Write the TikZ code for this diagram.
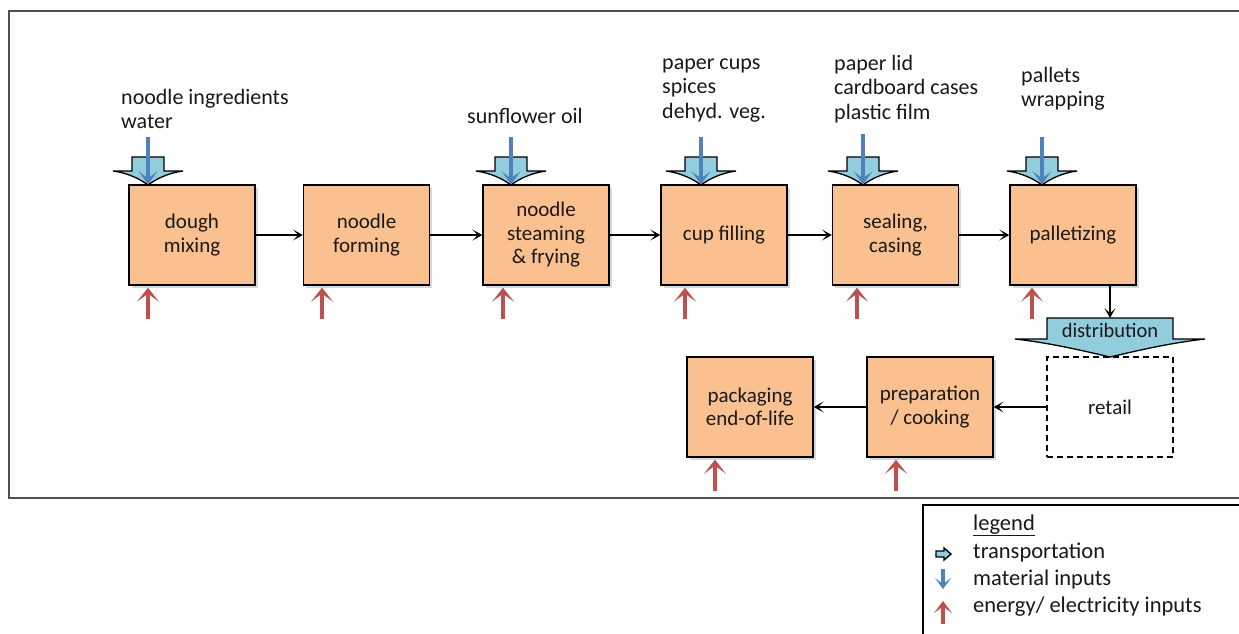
\documentclass[tikz,border=0pt]{standalone}
\usepackage{fontspec}
\setmainfont{Carlito}
\usetikzlibrary{arrows.meta,shadows}
\definecolor{boxfill}{RGB}{250,192,143}
\definecolor{transfill}{RGB}{146,205,221}
\definecolor{matblue}{RGB}{79,129,189}
\definecolor{enred}{RGB}{192,80,77}
\definecolor{txt}{RGB}{25,25,25}
\definecolor{framegray}{RGB}{80,80,80}
\tikzset{
  proc/.style={draw=black, line width=1.4pt, fill=boxfill, minimum width=126pt, minimum height=100pt,
    inner sep=0pt, align=center, font=\fontsize{21}{23.5}\selectfont, text=txt,
    drop shadow={shadow xshift=2.5pt, shadow yshift=-2.5pt, opacity=0.3}},
  retailbox/.style={draw=black, line width=1.4pt, dash pattern=on 6pt off 4pt, fill=white, minimum width=126pt, minimum height=100pt,
    inner sep=0pt, align=center, font=\fontsize{21}{23.5}\selectfont, text=txt},
  lbl/.style={anchor=north west, inner sep=0pt, align=left, font=\fontsize{22}{24.5}\selectfont, text=txt},
  leg/.style={anchor=base west, inner sep=0pt, font=\fontsize{22.5}{27}\selectfont, text=txt},
  conn/.style={draw=black, line width=1.2pt, -{Stealth[length=10pt,width=11pt,inset=5.5pt]}},
  trans/.style={draw=black, line width=1.3pt, fill=transfill, line join=miter},
  material/.style={draw=matblue, line width=3.3pt, -{Stealth[length=13pt,width=19pt,inset=7pt]}},
  energy/.style={draw=enred, line width=3.8pt, -{Stealth[length=14pt,width=22pt,inset=8pt]}},
}
\newcommand\mytransport[1]{%
  \draw[trans] (#1-16,157) -- (#1+16,157) -- (#1+16,171) -- (#1+35,171)
     .. controls (#1+20,173) and (#1+8,179) .. (#1,185)
     .. controls (#1-8,179) and (#1-20,173) .. (#1-35,171) -- (#1-16,171) -- cycle;}
\begin{document}
\begin{tikzpicture}[x=1pt,y=-1pt]
\useasboundingbox (0,0) rectangle (1239,633);
\fill[white] (0,0) rectangle (1239,633);
% outer frame and legend frame
\draw[framegray, line width=1.3pt] (9,11) rectangle (1260,498);
\draw[black, line width=1.6pt] (923,505) rectangle (1260,660);

% process boxes
\node[proc] (dough)    at (192,235)  {dough\\mixing};
\node[proc] (forming)  at (366.5,235) {noodle\\forming};
\node[proc] (steaming) at (546,235)  {noodle\\steaming\\\& frying};
\node[proc] (cup)      at (724,235)  {cup filling};
\node[proc] (sealing)  at (895.5,235) {sealing,\\casing};
\node[proc] (pallet)   at (1073,235) {palletizing};
\node[proc] (pack)     at (750,407)  {packaging\\end-of-life};
\node[proc] (prep)     at (930,407)  {preparation\\/ cooking};
\node[retailbox] (retail) at (1110,407) {retail};

% connectors
\draw[conn] (dough) -- (forming);
\draw[conn] (forming) -- (steaming);
\draw[conn] (steaming) -- (cup);
\draw[conn] (cup) -- (sealing);
\draw[conn] (sealing) -- (pallet);
\draw[conn] (retail) -- (prep);
\draw[conn] (prep) -- (pack);

% distribution
\draw[trans] (1047,318) -- (1173,318) -- (1173,339) -- (1205,339)
   .. controls (1170,343) and (1140,350) .. (1110,357)
   .. controls (1080,350) and (1050,343) .. (1015,339) -- (1047,339) -- cycle;
\node[inner sep=0pt, font=\fontsize{20.5}{24}\selectfont, text=txt] (dist) at (1110,330) {distribution};
\coordinate (distTop) at (1110,318);
\draw[conn] (pallet.south -| distTop) -- (distTop);

% transport arrows on top
\mytransport{148}
\mytransport{511}
\mytransport{701}
\mytransport{863}
\mytransport{1042}

% material inputs
\coordinate (m1) at (148,137);
\coordinate (m2) at (511,137);
\coordinate (m3) at (701,137);
\coordinate (m4) at (863,134);
\coordinate (m5) at (1042,137);
\draw[material] (m1) -- (m1 |- dough.north);
\draw[material] (m2) -- (m2 |- steaming.north);
\draw[material] (m3) -- (m3 |- cup.north);
\draw[material] (m4) -- (m4 |- sealing.north);
\draw[material] (m5) -- (m5 |- pallet.north);

% energy inputs
\coordinate (e1) at (148,319);
\coordinate (e2) at (322,319);
\coordinate (e3) at (503,319);
\coordinate (e4) at (685,319);
\coordinate (e5) at (857,319);
\coordinate (e6) at (1032,319);
\coordinate (e7) at (715,491);
\coordinate (e8) at (896,491);
\draw[energy, shorten >=2pt] (e1) -- (e1 |- dough.south);
\draw[energy, shorten >=2pt] (e2) -- (e2 |- forming.south);
\draw[energy, shorten >=2pt] (e3) -- (e3 |- steaming.south);
\draw[energy, shorten >=2pt] (e4) -- (e4 |- cup.south);
\draw[energy, shorten >=2pt] (e5) -- (e5 |- sealing.south);
\draw[energy, shorten >=2pt] (e6) -- (e6 |- pallet.south);
\draw[energy, shorten >=2pt] (e7) -- (e7 |- pack.south);
\draw[energy, shorten >=2pt] (e8) -- (e8 |- prep.south);

% input labels
\node[lbl] (l1) at (121,87) {\strut noodle ingredients\\water};
\node[lbl] (l2) at (467,106) {\strut sunflower oil};
\node[lbl] (l3) at (662,52) {\strut paper cups\\spices\\dehyd. veg.};
\node[lbl] (l4) at (834,53) {\strut paper lid\\cardboard cases\\plastic film};
\node[lbl] (l5) at (1021,65) {\strut pallets\\wrapping};

% legend
\node[leg] (lg0) at (973,530) {\underline{legend}};
\node[leg] (lg1) at (973,558) {transportation};
\node[leg] (lg2) at (973,585) {material inputs};
\node[leg] (lg3) at (973,612) {energy/ electricity inputs};
\draw[trans, line width=1.4pt] (936,551) -- (944,551) -- (944,548) -- (951,554) -- (944,560) -- (944,557) -- (936,557) -- cycle;
\coordinate (lm) at (943,569);
\draw[material, -{Stealth[length=11pt,width=16pt,inset=6pt]}] (lm) -- ++(0,20);
\coordinate (le) at (943,624);
\draw[energy, line width=3.4pt, -{Stealth[length=12pt,width=18pt,inset=6.5pt]}] (le) -- ++(0,-23);
\end{tikzpicture}
\end{document}
